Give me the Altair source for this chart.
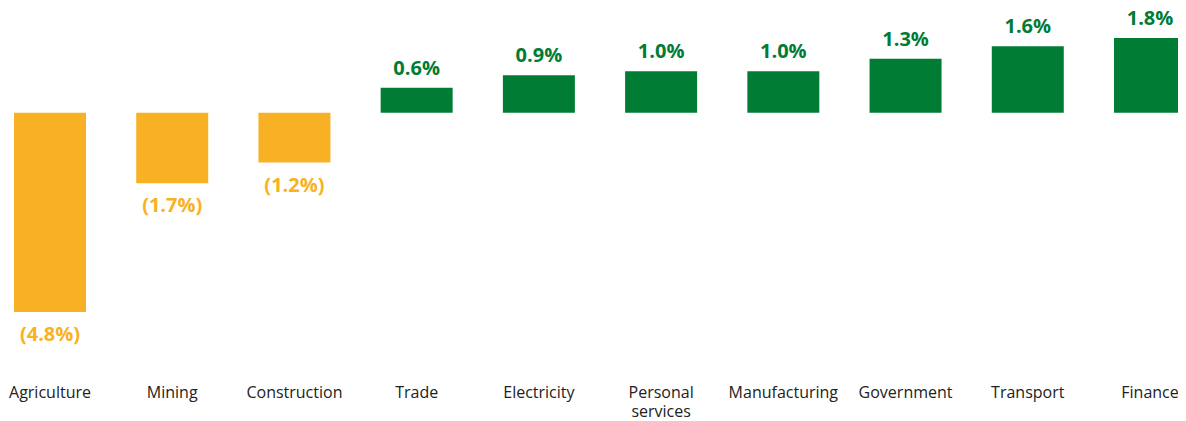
import altair as alt
import pandas as pd

sectors = ["Agriculture", "Mining", "Construction", "Trade", "Electricity",
           "Personal services", "Manufacturing", "Government", "Transport", "Finance"]
growth = [-4.8, -1.7, -1.2, 0.6, 0.9, 1.0, 1.0, 1.3, 1.6, 1.8]

ORANGE = "#F8B124"
GREEN = "#007C34"

df = pd.DataFrame({"sector": sectors, "growth": growth})
df["label"] = [f"({abs(v):.1f}%)" if v < 0 else f"{v:.1f}%" for v in growth]
df["sign"] = ["neg" if v < 0 else "pos" for v in growth]

x = alt.X(
    "sector:N", sort=sectors,
    scale=alt.Scale(range=[6, 1178], paddingInner=0.411, paddingOuter=0),
    axis=alt.Axis(title=None, orient="bottom", domain=False, ticks=False,
                  labelExpr="split(datum.label, ' ')", labelFontSize=16,
                  labelFont="Open Sans", labelColor="#222222", labelPadding=9,
                  labelLineHeight=19, labelAngle=0, labelBaseline="top",
                  grid=False),
)
y = alt.Y("growth:Q", scale=alt.Scale(domain=[-6.32, 2.523], nice=False, zero=True), axis=None)
color = alt.Color("sign:N", scale=alt.Scale(domain=["neg", "pos"], range=[ORANGE, GREEN]), legend=None)

base = alt.Chart(df).encode(x=x, y=y, color=color)

bars = base.mark_bar()
pos_text = base.transform_filter("datum.growth >= 0").mark_text(
    baseline="bottom", dy=-9, fontSize=20, fontWeight="bold", font="Open Sans"
).encode(text="label:N")
neg_text = base.transform_filter("datum.growth < 0").mark_text(
    baseline="top", dy=13, fontSize=20, fontWeight="bold", font="Open Sans"
).encode(text="label:N")

chart = (bars + pos_text + neg_text).properties(
    width=1170, height=367,
    autosize=alt.AutoSizeParams(type="none"),
    padding={"left": 0, "top": 0, "right": 0, "bottom": 46},
).configure_view(strokeWidth=0)

chart.save("out.html", embed_options={"renderer": "svg", "actions": False})
